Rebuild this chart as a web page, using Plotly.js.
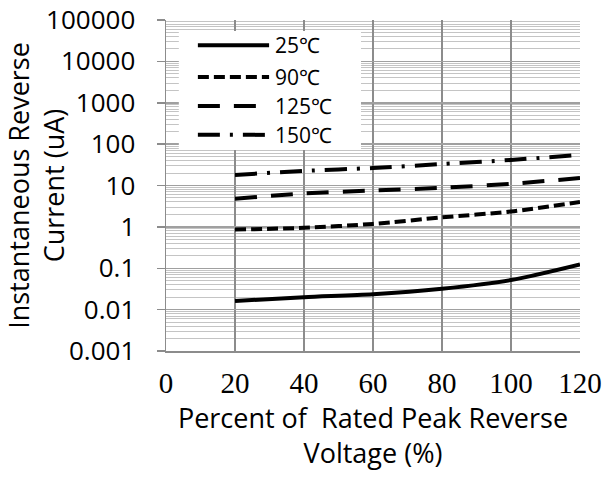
<!DOCTYPE html>
<html><head><meta charset="utf-8">
<script src="https://cdn.plot.ly/plotly-3.0.1.min.js"></script>
<style>html,body{margin:0;padding:0;background:#fff}#chart{width:605px;height:477px}</style>
</head><body><div id="chart"></div>
<script>
const voltage = [20, 40, 60, 80, 100, 120];
const i25 = [0.0162, 0.0200, 0.0235, 0.032, 0.052, 0.124];
const i90 = [0.86, 0.95, 1.18, 1.70, 2.35, 4.0];
const i125 = [4.8, 6.4, 7.6, 8.8, 11.0, 15.2];
const i150 = [18.0, 22.5, 26.5, 33.0, 41.5, 55.0];
const seriesNames = ['25℃', '90℃', '125℃', '150℃'];
const dashes = ['solid', '11px,5px', '22px,14px', '22px,10px,3px,10px'];
const xTicks = [0, 20, 40, 60, 80, 100, 120];
const yTickVals = [0.001, 0.01, 0.1, 1, 10, 100, 1000, 10000, 100000];
const yTickText = ['0.001', '0.01', '0.1', '1', '10', '100', '1000', '10000', '100000'];

const ys = [i25, i90, i125, i150];
const traces = ys.map((y, k) => ({
  x: voltage, y: y, type: 'scatter', mode: 'lines', name: seriesNames[k],
  line: {color: '#000', width: 4, dash: dashes[k], shape: 'spline', smoothing: 0.8},
  showlegend: false
}));

// custom legend (long line samples like the reference)
const legY = [0.924, 0.828, 0.740, 0.653];
const shapes = [{type: 'rect', xref: 'paper', yref: 'paper', x0: 0.031, x1: 0.471, y0: 0.607, y1: 0.967,
  fillcolor: '#fff', line: {width: 0}}];
const annotations = [];
seriesNames.forEach((n, k) => {
  shapes.push({type: 'line', xref: 'paper', yref: 'paper', x0: 0.077, x1: 0.249, y0: legY[k], y1: legY[k],
    line: {color: '#000', width: 4, dash: dashes[k]}});
  annotations.push({xref: 'paper', yref: 'paper', x: 0.262, y: legY[k], xanchor: 'left', yanchor: 'middle',
    text: n, showarrow: false, borderpad: 0,
    font: {family: 'Open Sans, sans-serif', size: 21, color: '#000'}});
});

const layout = {
  width: 605, height: 477,
  margin: {l: 166, r: 25, t: 20, b: 126},
  paper_bgcolor: '#fff', plot_bgcolor: '#fff',
  showlegend: false,
  xaxis: {
    range: [0, 120], tickvals: xTicks, ticktext: xTicks.map(String),
    showgrid: true, gridcolor: '#8c8c8c', gridwidth: 1.5,
    showline: true, linecolor: '#8c8c8c', linewidth: 1.5,
    ticks: '', zeroline: false, ticklabelstandoff: 6,
    tickfont: {family: 'Liberation Serif, serif', size: 29, color: '#000'},
    title: {text: 'Percent of  Rated Peak Reverse<br>Voltage (%)', standoff: 3,
      font: {family: 'Open Sans, sans-serif', size: 27, color: '#000'}}
  },
  yaxis: {
    type: 'log', range: [-3, 5], tickvals: yTickVals, ticktext: yTickText,
    showgrid: true, gridcolor: '#a0a0a0', gridwidth: 1.5,
    showline: true, linecolor: '#8c8c8c', linewidth: 1.5,
    ticks: 'outside', ticklen: 8, tickcolor: '#8c8c8c', tickwidth: 1.5,
    zeroline: false, ticklabelstandoff: 16,
    minor: {dtick: 'D1', showgrid: true, gridcolor: '#c4c4c4', gridwidth: 1, ticks: ''},
    tickfont: {family: 'Open Sans, sans-serif', size: 26, color: '#000'},
    title: {text: 'Instantaneous Reverse<br>Current (uA)', standoff: 4,
      font: {family: 'Open Sans, sans-serif', size: 27, color: '#000'}}
  },
  shapes: shapes,
  annotations: annotations
};
Plotly.newPlot('chart', traces, layout, {displayModeBar: false, staticPlot: true});
</script></body></html>
